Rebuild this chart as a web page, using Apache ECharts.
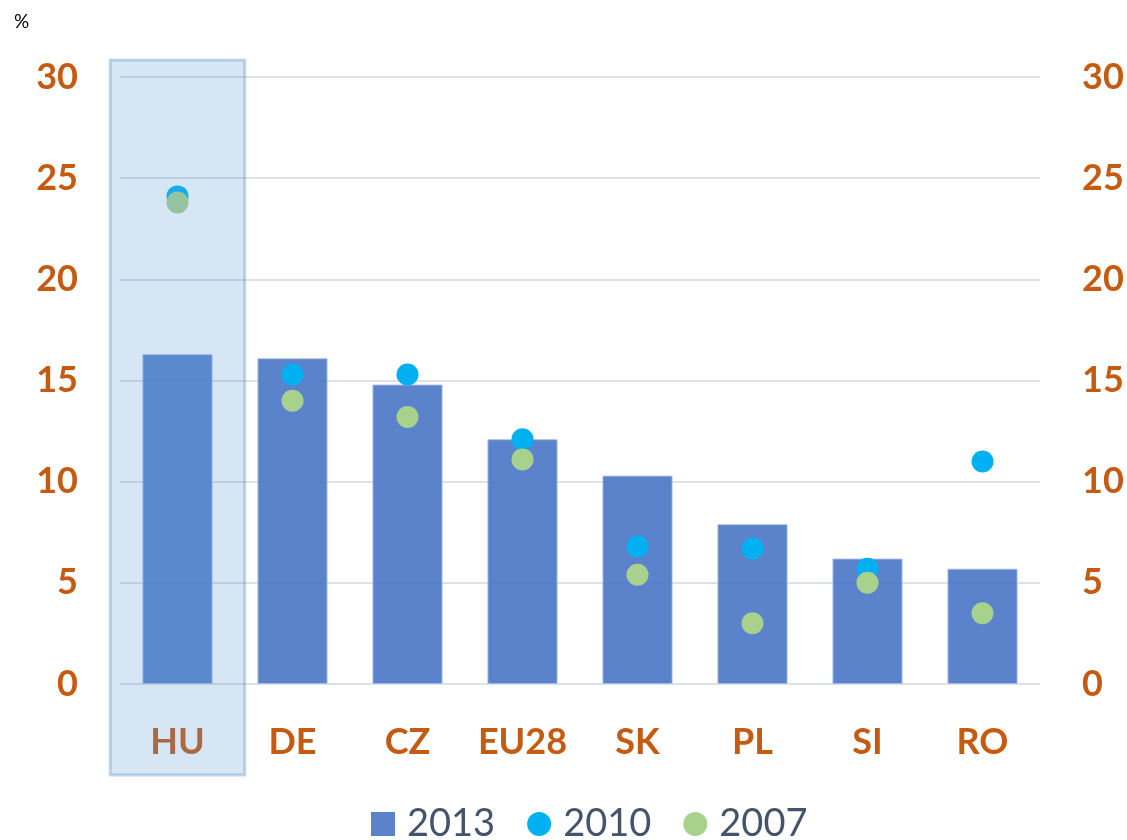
<!DOCTYPE html>
<html>
<head>
<meta charset="utf-8">
<script src="https://cdn.jsdelivr.net/npm/echarts@6/dist/echarts.min.js"></script>
<style>
  html, body { margin: 0; padding: 0; background: #ffffff; }
  #chart { width: 1127px; height: 840px; }
</style>
</head>
<body>
<div id="chart"></div>
<script>
const categories = ["HU", "DE", "CZ", "EU28", "SK", "PL", "SI", "RO"];
const values2013 = [16.3, 16.1, 14.8, 12.1, 10.3, 7.9, 6.2, 5.7];
const values2010 = [24.1, 15.3, 15.3, 12.1, 6.8, 6.7, 5.7, 11.0];
const values2007 = [23.8, 14.0, 13.2, 11.1, 5.4, 3.0, 5.0, 3.5];
const highlighted = "HU";

const colors = {
  bar: "#4472c4",
  dot2010: "#00b0f0",
  dot2007: "#a9d18e",
  label: "#c55a11",
  legend: "#44546a",
  grid: "#dde1ea",
};

const font = "Lato, 'Open Sans', sans-serif";

const valueAxis = (pos) => ({
  type: "value",
  position: pos,
  min: 0,
  max: 30,
  interval: 5,
  axisLine: { show: false },
  axisTick: { show: false },
  splitLine: { show: pos === "left", lineStyle: { color: colors.grid, width: 2 } },
  axisLabel: {
    color: colors.label,
    fontSize: 36,
    fontWeight: "bold",
    fontFamily: font,
    margin: 42,
  },
});

const chart = echarts.init(document.getElementById("chart"));

const options = {
  animation: false,
  textStyle: { fontFamily: font },
  graphic: [
    {
      type: "text",
      left: 14,
      top: 12,
      style: { text: "%", fontSize: 19, fill: "#000000", fontFamily: font },
    },
  ],
  grid: { left: 120, right: 87, top: 77, bottom: 156 },
  legend: {
    top: 799,
    left: 366,
    itemWidth: 24,
    itemHeight: 24,
    itemGap: 32,
    itemStyle: { borderWidth: 0 },
    textStyle: { color: colors.legend, fontSize: 38, lineHeight: 40, fontFamily: font, padding: [0, 0, 0, 7] },
    data: [
      { name: "2013", icon: "rect" },
      { name: "2010", icon: "circle" },
      { name: "2007", icon: "circle" },
    ],
  },
  xAxis: {
    type: "category",
    data: categories,
    axisLine: { show: false },
    axisTick: { show: false },
    axisLabel: {
      interval: 0,
      color: colors.label,
      fontSize: 36,
      fontWeight: "bold",
      fontFamily: font,
      margin: 40,
    },
  },
  yAxis: [valueAxis("left"), valueAxis("right")],
  series: [
    {
      name: "2013",
      type: "bar",
      data: values2013,
      barWidth: "61%",
      itemStyle: {
        color: colors.bar,
        opacity: 0.88,
        borderColor: "#a9bde6",
        borderWidth: 1,
      },
      z: 2,
    },
    {
      name: "2010",
      type: "scatter",
      data: values2010,
      symbolSize: 22,
      itemStyle: { color: colors.dot2010, opacity: 1 },
      z: 3,
    },
    {
      name: "2007",
      type: "scatter",
      data: values2007,
      symbolSize: 22,
      itemStyle: { color: colors.dot2007, opacity: 1 },
      z: 4,
    },
  ],
};

chart.setOption(options);

// highlight box around the selected category, placed from the axis scale
const cx = chart.convertToPixel({ xAxisIndex: 0 }, highlighted);
const step = chart.convertToPixel({ xAxisIndex: 0 }, categories[1]) - chart.convertToPixel({ xAxisIndex: 0 }, categories[0]);
const yTop = chart.convertToPixel({ yAxisIndex: 0 }, 30);
const yZero = chart.convertToPixel({ yAxisIndex: 0 }, 0);
const halfW = step * 0.585;

chart.setOption({
  graphic: [
    options.graphic[0],
    {
      type: "rect",
      z: 100,
      shape: { x: cx - halfW, y: yTop - 17, width: halfW * 2, height: yZero - yTop + 17 + 91 },
      style: {
        fill: "rgba(91,155,213,0.25)",
        stroke: "rgba(91,140,190,0.35)",
        lineWidth: 3,
      },
    },
  ],
});

window.addEventListener("resize", () => chart.resize());
</script>
</body>
</html>
